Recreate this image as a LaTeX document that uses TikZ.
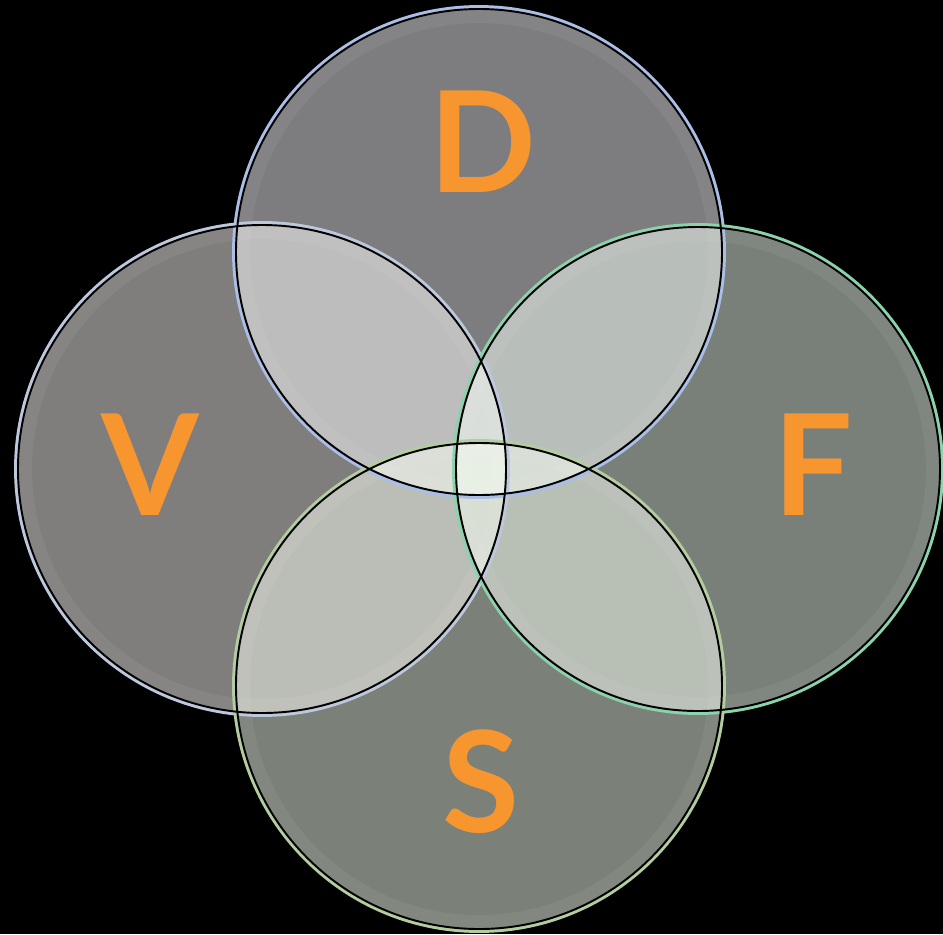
\documentclass[tikz,border=0pt]{standalone}
\usepackage{fontspec}
\setmainfont{Lato}
\definecolor{letter}{HTML}{F7962F}
\definecolor{dfill}{RGB}{250,251,255}
\definecolor{vfill}{RGB}{255,253,251}
\definecolor{ffill}{RGB}{243,255,245}
\definecolor{sfill}{RGB}{247,255,240}
\definecolor{dedge}{RGB}{170,190,230}
\definecolor{vedge}{RGB}{190,200,220}
\definecolor{fedge}{RGB}{140,210,170}
\definecolor{sedge}{RGB}{180,205,160}
\tikzset{
  disc/.style={fill opacity=0.5},
  glow/.style={draw=white, draw opacity=0.06, line width=8pt},
  rim/.style={line width=2.2pt},
  outline/.style={draw=black, line width=1.1pt},
  lbl/.style={text=letter, font=\fontsize{80}{80}\selectfont\bfseries, inner sep=0pt}
}
\begin{document}
\begin{tikzpicture}[x=0.02cm,y=-0.02cm]
\fill[black] (0,0) rectangle (943,934);
\useasboundingbox (0,0) rectangle (943,934);
\coordinate (cD) at (479,252);
\coordinate (cV) at (262,469);
\coordinate (cF) at (698,469);
\coordinate (cS) at (479,686);
% fills
\fill[dfill,disc] (cD) circle[radius=245];
\fill[vfill,disc] (cV) circle[radius=246];
\fill[ffill,disc] (cF) circle[radius=244];
\fill[sfill,disc] (cS) circle[radius=245];
% inner glow rings
\draw[glow] (cD) circle[radius=236];
\draw[glow] (cV) circle[radius=237];
\draw[glow] (cF) circle[radius=235];
\draw[glow] (cS) circle[radius=236];
% coloured rims
\draw[rim,dedge] (cD) circle[radius=245];
\draw[rim,vedge] (cV) circle[radius=246];
\draw[rim,fedge] (cF) circle[radius=244];
\draw[rim,sedge] (cS) circle[radius=245];
% dark outlines
\draw[outline] (cD) circle[radius=243];
\draw[outline] (cV) circle[radius=244];
\draw[outline] (cF) circle[radius=242];
\draw[outline] (cS) circle[radius=243];
% labels
\node[lbl] (D) at (483,142) {D};
\node[lbl] (V) at (150,465) {V};
\node[lbl] (F) at (813,465) {F};
\node[lbl] (S) at (481,782) {S};
\end{tikzpicture}
\end{document}
